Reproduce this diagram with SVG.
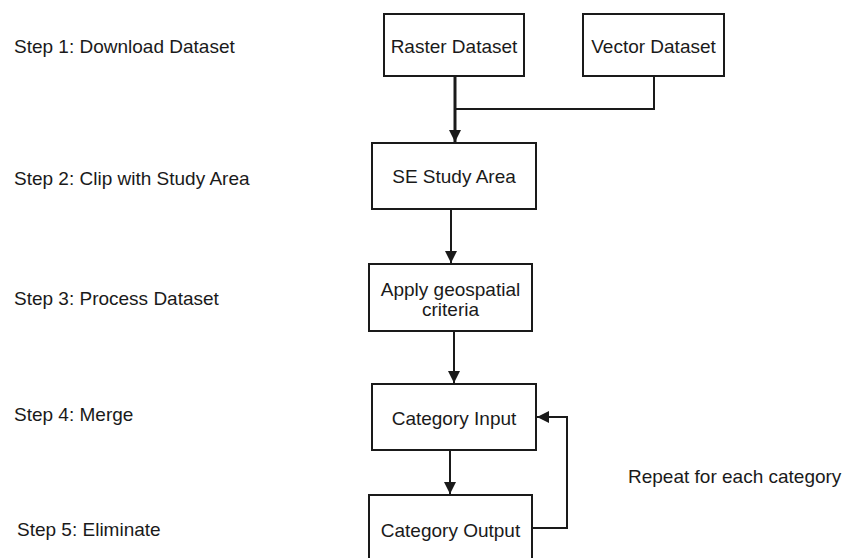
<svg xmlns="http://www.w3.org/2000/svg" width="845" height="558" viewBox="0 0 845 558">
<style>
text{font-family:"Liberation Sans",Arial,sans-serif;font-size:19px;fill:#1a1a1a}
.c{text-anchor:middle}
.box{fill:#fff;stroke:#1a1a1a;stroke-width:2}
.ln{fill:none;stroke:#1a1a1a;stroke-width:2}
</style>
<defs>
<marker id="ah" markerWidth="14" markerHeight="14" refX="12" refY="6.5" orient="auto" markerUnits="userSpaceOnUse">
<path d="M0,0.5 L12,6.5 L0,12.5 Z" fill="#1a1a1a"/>
</marker>
</defs>
<rect width="845" height="558" fill="#fff"/>
<g id="labels">
<text x="14" y="53">Step 1: Download Dataset</text>
<text x="14" y="185">Step 2: Clip with Study Area</text>
<text x="14" y="305">Step 3: Process Dataset</text>
<text x="14" y="421">Step 4: Merge</text>
<text x="17" y="536">Step 5: Eliminate</text>
<text x="628" y="483">Repeat for each category</text>
</g>
<g id="connectors">
<path class="ln" d="M455,76 V142" style="stroke-width:3" marker-end="url(#ah)"/>
<path class="ln" d="M654,76 V109 H455"/>
<path class="ln" d="M451,209 V263" marker-end="url(#ah)"/>
<path class="ln" d="M454,331 V383" marker-end="url(#ah)"/>
<path class="ln" d="M450,450 V494" marker-end="url(#ah)"/>
<path class="ln" d="M532,528 H567 V417 H537" marker-end="url(#ah)"/>
</g>
<g id="raster">
<rect class="box" x="384" y="14" width="140" height="62"/>
<text class="c" x="454" y="53">Raster Dataset</text>
</g>
<g id="vector">
<rect class="box" x="583" y="14" width="141" height="62"/>
<text class="c" x="653.5" y="53">Vector Dataset</text>
</g>
<g id="study">
<rect class="box" x="372" y="143" width="164" height="66"/>
<text class="c" x="454" y="183">SE Study Area</text>
</g>
<g id="apply">
<rect class="box" x="369" y="264" width="163" height="67"/>
<text class="c" x="450.5" y="296">Apply geospatial</text>
<text class="c" x="450.5" y="316">criteria</text>
</g>
<g id="input">
<rect class="box" x="372" y="384" width="164" height="66"/>
<text class="c" x="454" y="425">Category Input</text>
</g>
<g id="output">
<rect class="box" x="369" y="495" width="163" height="70"/>
<text class="c" x="450.5" y="537">Category Output</text>
</g>
</svg>
